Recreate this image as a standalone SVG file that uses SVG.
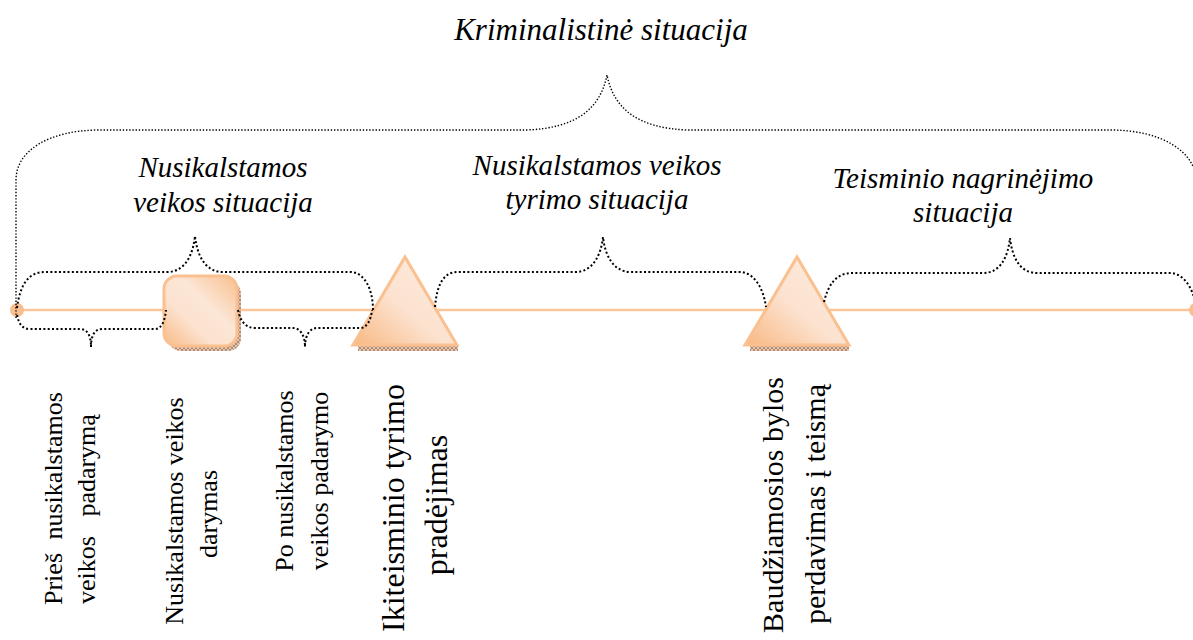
<svg xmlns="http://www.w3.org/2000/svg" width="1193" height="640" viewBox="0 0 1193 640">
<defs>
<linearGradient id="gSq" x1="0" y1="1" x2="1" y2="0">
<stop offset="0" stop-color="#F8BA86"/>
<stop offset="0.35" stop-color="#FCE2CF"/>
<stop offset="0.6" stop-color="#FCE6D6"/>
<stop offset="1" stop-color="#F9BF8E"/>
</linearGradient>
<linearGradient id="gTri" x1="0" y1="1" x2="1" y2="0">
<stop offset="0" stop-color="#F8B883"/>
<stop offset="0.45" stop-color="#FCE2CF"/>
<stop offset="1" stop-color="#FDECE0"/>
</linearGradient>
<pattern id="hatch" width="4" height="4" patternUnits="userSpaceOnUse">
<rect width="4" height="4" fill="#DCBBA2"/>
<path d="M0,0 L4,4 M4,0 L0,4" stroke="#9A6646" stroke-width="0.8"/>
</pattern>
<style>
.tl{stroke:#FBC597;stroke-width:2.5;fill:none}
.dot{fill:#F9BE8E}
.shape{stroke:#FAC090;stroke-width:3;stroke-linejoin:miter}
.br1{fill:none;stroke:#000;stroke-width:1.4;stroke-dasharray:1.4 1.8}
.br2{fill:none;stroke:#000;stroke-width:2;stroke-dasharray:2 2.3}
.it{font-family:"Liberation Serif","Times New Roman",serif;font-style:italic;font-size:29px;fill:#000;text-anchor:middle}
.vt{font-family:"Liberation Serif","Times New Roman",serif;font-size:26px;fill:#000}
</style>
</defs>
<rect width="1193" height="640" fill="#fff"/>

<g id="timeline">
<line class="tl" x1="17" y1="310" x2="1193" y2="310"/>
<circle class="dot" cx="17" cy="310" r="7"/>
<circle class="dot" cx="1196" cy="310" r="7"/>
</g>

<g id="node-square">
<rect x="168" y="281" width="73" height="70" rx="13" fill="url(#hatch)" opacity="0.85"/>
<rect class="shape" x="164" y="276" width="73" height="70" rx="13" fill="url(#gSq)"/>
</g>
<g id="node-triangle-1">
<rect x="358" y="345" width="100" height="6" fill="url(#hatch)" opacity="0.85"/>
<polygon class="shape" points="405,257 457,345 353,345" fill="url(#gTri)"/>
</g>
<g id="node-triangle-2">
<rect x="750" y="345" width="99" height="6" fill="url(#hatch)" opacity="0.85"/>
<polygon class="shape" points="797,257 849,345 745,345" fill="url(#gTri)"/>
</g>

<g id="connectors">
<path class="br1" d="M16,318 V180 C16,150 50,130 100,130 H527 C575,128 600,110 607,75 C614,110 639,128 687,130 H1110 C1160,130 1197,150 1197,185 V318"/>
<path class="br2" d="M17,308 C20,285 28,272 45,272 H167 C185,272 193,255 195,236 C197,255 205,272 223,272 H350 C365,272 373,290 373,310"/>
<path class="br2" d="M17,315 C19,324 22,329 30,329 H80 C87,329 91,335 91,347 C91,335 95,329 102,329 H155 C162,329 165,320 166,310"/>
<path class="br2" d="M238,310 C240,320 245,328 255,328 H293 C300,328 305,335 305,347 C305,335 310,328 317,328 H360 C367,328 371,320 372,310"/>
<path class="br2" d="M435,307 C437,285 443,272 458,272 H575 C593,272 601,255 603,237 C605,255 613,272 631,272 H740 C752,272 763,285 766,307"/>
<path class="br2" d="M824,302 C828,285 836,273 852,273 H983 C1001,273 1008,256 1010,238 C1012,256 1019,273 1037,273 H1170 C1182,273 1192,285 1196,305"/>
</g>

<g id="labels">
<text class="it" x="601" y="40" style="font-size:31px">Kriminalistinė situacija</text>
<text class="it" x="223" y="177">Nusikalstamos</text>
<text class="it" x="223" y="212">veikos situacija</text>
<text class="it" x="597" y="175">Nusikalstamos veikos</text>
<text class="it" x="597" y="209">tyrimo situacija</text>
<text class="it" x="963" y="188">Teisminio nagrinėjimo</text>
<text class="it" x="963" y="222">situacija</text>
</g>

<g id="node-label-1">
<text class="vt" transform="translate(62,605) rotate(-90)" word-spacing="7">Prieš nusikalstamos</text>
<text class="vt" transform="translate(95,604) rotate(-90)" word-spacing="13">veikos padarymą</text>
</g>
<g id="node-label-2">
<text class="vt" transform="translate(183,511) rotate(-90)" text-anchor="middle">Nusikalstamos veikos</text>
<text class="vt" transform="translate(217,514) rotate(-90)" text-anchor="middle">darymas</text>
</g>
<g id="node-label-3">
<text class="vt" transform="translate(293,481) rotate(-90)" text-anchor="middle">Po nusikalstamos</text>
<text class="vt" transform="translate(328,481) rotate(-90)" text-anchor="middle">veikos padarymo</text>
</g>
<g id="node-label-4">
<text class="vt" transform="translate(404,508) rotate(-90)" text-anchor="middle" style="font-size:32px">Ikiteisminio tyrimo</text>
<text class="vt" transform="translate(447,505) rotate(-90)" text-anchor="middle" style="font-size:32px">pradėjimas</text>
</g>
<g id="node-label-5">
<text class="vt" transform="translate(783,505) rotate(-90)" text-anchor="middle" style="font-size:30px">Baudžiamosios bylos</text>
<text class="vt" transform="translate(825,504) rotate(-90)" text-anchor="middle" style="font-size:30px">perdavimas į teismą</text>
</g>
</svg>
